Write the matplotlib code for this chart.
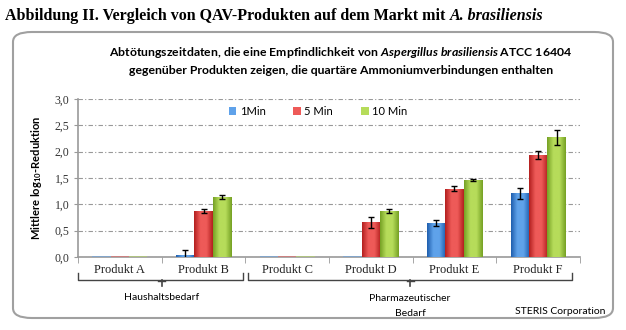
import numpy as np
import matplotlib
matplotlib.use("Agg")
import matplotlib.pyplot as plt
from matplotlib.patches import FancyBboxPatch
from matplotlib.colors import LinearSegmentedColormap
import matplotlib.transforms as mtransforms

# data
products = ["Produkt A", "Produkt B", "Produkt C", "Produkt D", "Produkt E", "Produkt F"]
series = ["1Min", "5 Min", "10 Min"]
min1 = [0.0, 0.04, 0.0, 0.0, 0.64, 1.21]
min5 = [0.0, 0.87, 0.0, 0.66, 1.30, 1.94]
min10 = [0.0, 1.14, 0.0, 0.88, 1.47, 2.27]
err1 = [0.0, 0.09, 0.0, 0.0, 0.06, 0.10]
err5 = [0.0, 0.04, 0.0, 0.10, 0.04, 0.07]
err10 = [0.0, 0.03, 0.0, 0.04, 0.02, 0.14]
yticks = [0.0, 0.5, 1.0, 1.5, 2.0, 2.5, 3.0]
groups = ["Haushaltsbedarf", "Pharmazeutischer\nBedarf"]

colors = [("#1f5fae", "#5fa2ea"), ("#b3201f", "#ee5a58"), ("#76a125", "#b6dc5a")]

plt.rcParams["mathtext.fontset"] = "custom"
plt.rcParams["mathtext.rm"] = "Lato:bold"
plt.rcParams["mathtext.it"] = "Lato:italic:bold"

fig = plt.figure(figsize=(6.26, 3.30), dpi=100)
W, H = 626, 330

def fx(px):
    return px / W

def fy(py):
    return 1 - py / H

# outer title (roman part, then italic species name)
t = fig.text(fx(5), fy(16), "Abbildung II. Vergleich von QAV-Produkten auf dem Markt mit ",
             family="Liberation Serif", weight="bold", fontsize=11.5, va="center")
fig.canvas.draw()
bb = t.get_window_extent()
fig.text(bb.x1 / W, fy(16), "A. brasiliensis", family="Liberation Serif", weight="bold",
         style="italic", fontsize=11.5, va="center")

# rounded frame
box = FancyBboxPatch((fx(13), fy(318)), fx(600), (318 - 32) / H,
                     boxstyle="round,pad=0,rounding_size=0.03",
                     transform=fig.transFigure, fill=False, edgecolor="#a0a0a0", lw=1.5)
fig.patches.append(box)

# subtitle
fig.text(fx(341), fy(52), "Abtötungszeitdaten, die eine Empfindlichkeit von $Aspergillus\\ brasiliensis$ ATCC 16404",
         family="Lato", weight="bold", fontsize=8.8, ha="center", va="center")
fig.text(fx(341), fy(70), "gegenüber Produkten zeigen, die quartäre Ammoniumverbindungen enthalten",
         family="Lato", weight="bold", fontsize=8.8, ha="center", va="center")

ax = fig.add_axes([fx(78), fy(257), fx(502), (257 - 99) / H])
x = np.arange(len(products))
w = 0.22
vals = [min1, min5, min10]
errs = [err1, err5, err10]
for i in range(3):
    cmap = LinearSegmentedColormap.from_list("g%d" % i, [colors[i][0], colors[i][1], colors[i][1], colors[i][0]])
    bars = ax.bar(x + (i - 1) * w, vals[i], w, color=colors[i][1], label=series[i], zorder=3)
    for b in bars:
        if b.get_height() <= 0:
            continue
        grad = np.linspace(0, 1, 50).reshape(1, -1)
        im = ax.imshow(grad, cmap=cmap, aspect="auto", zorder=3.5,
                       extent=[b.get_x(), b.get_x() + b.get_width(), 0, b.get_height()])
        im.set_clip_path(b)
    # faint flat strip for zero values
    zx = [x[k] + (i - 1) * w for k in range(len(x)) if vals[i][k] == 0]
    ax.bar(zx, [0.012] * len(zx), w, color=colors[i][1], alpha=0.5, zorder=3)
    keep = [k for k in range(len(x)) if errs[i][k] > 0]
    ax.errorbar([x[k] + (i - 1) * w for k in keep], [vals[i][k] for k in keep],
                yerr=[errs[i][k] for k in keep], fmt="none", ecolor="black",
                elinewidth=1, capsize=2.5, capthick=1, zorder=5)

ax.set_xlim(-0.5, 5.5)
ax.set_ylim(0, 3)
ax.set_yticks(yticks)
ax.set_yticklabels([("%.1f" % v).replace(".", ",") for v in yticks],
                   family="Liberation Serif", fontsize=8.5, color="#333333")
ax.set_xticks(x)
ax.set_xticklabels(products, family="Liberation Serif", fontsize=9, color="#222222")
ax.tick_params(axis="x", length=0, pad=5)
ax.set_xticks(np.arange(-0.5, 6, 1), minor=True)
ax.tick_params(axis="x", which="minor", length=4, color="#999999")
ax.tick_params(axis="y", length=3, color="#999999", pad=3)
ax.grid(axis="y", linestyle=(0, (4, 2, 1, 2)), color="#999999", lw=0.8, zorder=0)
for s in ["top", "right"]:
    ax.spines[s].set_visible(False)
for s in ["left", "bottom"]:
    ax.spines[s].set_color("#999999")
    ax.spines[s].set_linewidth(1.2)

ax.set_ylabel("Mittlere log$_{10}$-Reduktion", family="Lato", weight="bold", fontsize=8, labelpad=8)

leg = ax.legend(loc="upper left", bbox_to_anchor=(0.28, 1.02), ncol=3, frameon=False,
                prop={"family": "Lato", "size": 8}, handlelength=0.7, handleheight=0.7,
                handletextpad=0.3, columnspacing=2.5)

# braces below the axis
trans = mtransforms.blended_transform_factory(ax.transData, ax.transAxes)
ya, yb, yc = -0.10, -0.145, -0.185
for (x0, x1, xm) in [(-0.5, 1.47, 0.5), (1.53, 5.4, 3.47)]:
    ax.plot([x0, x0, x1, x1], [ya, yb, yb, ya], transform=trans, color="#444444", lw=1, clip_on=False)
    ax.plot([xm, xm], [yb, yc], transform=trans, color="#444444", lw=1.2, clip_on=False)
    ax.plot([xm - 0.04, xm + 0.04], [yb - 0.005, yb - 0.005], transform=trans, color="#444444", lw=1, clip_on=False)
ax.text(0.5, -0.255, groups[0], transform=trans, ha="center", va="center",
        family="Lato", fontsize=7.5)
ax.text(3.47, -0.31, groups[1], transform=trans, ha="center", va="center",
        family="Lato", fontsize=7.5, linespacing=1.9)

fig.text(fx(605), fy(312), "STERIS Corporation", family="Lato", fontsize=7.5, ha="right", va="center")

fig.savefig("out.png", dpi=100)
